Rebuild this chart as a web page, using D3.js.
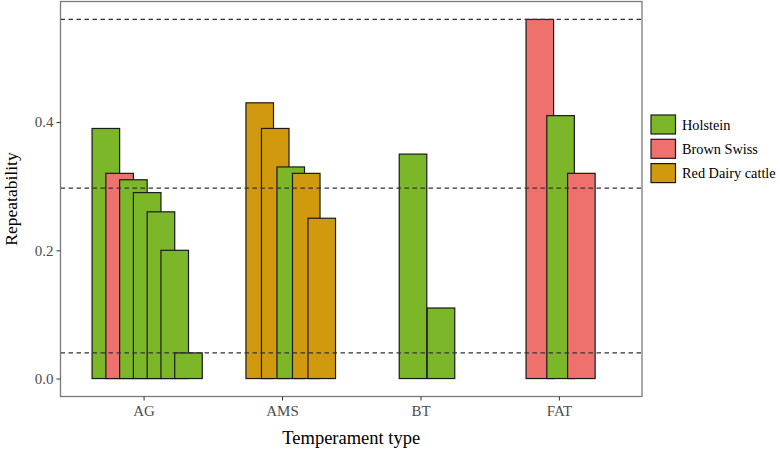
<!DOCTYPE html>
<html>
<head>
<meta charset="utf-8">
<script src="https://cdn.jsdelivr.net/npm/d3@7"></script>
<style>
  html, body { margin: 0; padding: 0; background: #fff; }
  svg { display: block; font-family: "Liberation Serif", "DejaVu Serif", serif; }
</style>
</head>
<body>
<svg id="chart" width="780" height="449"></svg>
<script>
// ---- data ----
const categories = ["AG", "AMS", "BT", "FAT"];
const breeds = ["Holstein", "Brown Swiss", "Red Dairy cattle"];
const agBreeds   = ["Holstein", "Brown Swiss", "Holstein", "Holstein", "Holstein", "Holstein", "Holstein"];
const agValues   = [0.39, 0.32, 0.31, 0.29, 0.26, 0.20, 0.04];
const amsBreeds  = ["Red Dairy cattle", "Red Dairy cattle", "Holstein", "Red Dairy cattle", "Red Dairy cattle"];
const amsValues  = [0.43, 0.39, 0.33, 0.32, 0.25];
const btBreeds   = ["Holstein", "Holstein"];
const btValues   = [0.35, 0.11];
const fatBreeds  = ["Brown Swiss", "Holstein", "Brown Swiss"];
const fatValues  = [0.56, 0.41, 0.32];
const refLines   = [0.04, 0.297, 0.56];
const yTicks     = [0.0, 0.2, 0.4];

// ---- styles / layout ----
const colors = { "Holstein": "#7CB72A", "Brown Swiss": "#EF716D", "Red Dairy cattle": "#D1990E" };
// dodge layout per category (fraction of category step): spacing between bars, group shift
const dodge = {
  AG:  { spacing: 0.0995, shift: 0.026 },
  AMS: { spacing: 0.112,  shift: 0.063 },
  BT:  { spacing: 0.202,  shift: 0.047 },
  FAT: { spacing: 0.150,  shift: 0.012 }
};
const barFrac = 0.199;

const groups = {
  AG:  { b: agBreeds,  v: agValues },
  AMS: { b: amsBreeds, v: amsValues },
  BT:  { b: btBreeds,  v: btValues },
  FAT: { b: fatBreeds, v: fatValues }
};

const bars = [];
categories.forEach(c => {
  const g = groups[c];
  const n = g.v.length;
  g.v.forEach((v, i) => bars.push({ cat: c, breed: g.b[i], value: v, i, n }));
});

const svg = d3.select("#chart");
const panel = { left: 60.5, right: 642, top: 1.5, bottom: 396.5 };

const yMax = d3.max(bars, d => d.value);
const yMin = 0;
const pad = (yMax - yMin) * 0.05;
const y = d3.scaleLinear().domain([yMin - pad, yMax + pad]).range([panel.bottom, panel.top]);
const x = d3.scalePoint().domain(categories).range([panel.left, panel.right]).padding(0.6);
const step = x.step();

// panel background
svg.append("rect")
  .attr("x", panel.left).attr("y", panel.top)
  .attr("width", panel.right - panel.left).attr("height", panel.bottom - panel.top)
  .attr("fill", "#fff");

// bars
const bw = barFrac * step;
svg.append("g").selectAll("rect").data(bars).join("rect")
  .attr("x", d => {
    const L = dodge[d.cat];
    const cx = x(d.cat) + (L.shift + (d.i - (d.n - 1) / 2) * L.spacing) * step;
    return cx - bw / 2;
  })
  .attr("y", d => y(d.value))
  .attr("width", bw)
  .attr("height", d => y(0) - y(d.value))
  .attr("fill", d => colors[d.breed])
  .attr("stroke", "#1a1a1a")
  .attr("stroke-width", 1.2);

// reference dashed lines
svg.append("g").selectAll("line").data(refLines).join("line")
  .attr("x1", panel.left).attr("x2", panel.right)
  .attr("y1", d => y(d)).attr("y2", d => y(d))
  .attr("stroke", "#333").attr("stroke-width", 1.2)
  .attr("stroke-dasharray", "4.5,3.5");

// panel border
svg.append("rect")
  .attr("x", panel.left).attr("y", panel.top)
  .attr("width", panel.right - panel.left).attr("height", panel.bottom - panel.top)
  .attr("fill", "none").attr("stroke", "#7a7a7a").attr("stroke-width", 1.3);

// y axis
const yAxis = d3.axisLeft(y).tickValues(yTicks).tickFormat(d3.format(".1f")).tickSize(4).tickPadding(3);
const gy = svg.append("g").attr("transform", `translate(${panel.left},0)`).call(yAxis);
gy.select(".domain").remove();
gy.selectAll(".tick line").attr("stroke", "#333");
gy.selectAll(".tick text").attr("fill", "#4D4D4D").style("font-size", "15px")
  .style("font-family", "'Liberation Serif', serif");

// x axis
const xAxis = d3.axisBottom(x).tickSize(4).tickPadding(5);
const gx = svg.append("g").attr("transform", `translate(0,${panel.bottom})`).call(xAxis);
gx.select(".domain").remove();
gx.selectAll(".tick line").attr("stroke", "#333");
gx.selectAll(".tick text").attr("fill", "#4D4D4D").style("font-size", "15px")
  .style("font-family", "'Liberation Serif', serif");

// axis titles
svg.append("text")
  .attr("x", (panel.left + panel.right) / 2).attr("y", 444)
  .attr("text-anchor", "middle").attr("fill", "#000")
  .style("font-size", "18.5px").text("Temperament type");
svg.append("text")
  .attr("transform", `translate(17,${(panel.top + panel.bottom) / 2}) rotate(-90)`)
  .attr("text-anchor", "middle").attr("fill", "#000")
  .style("font-size", "17.5px").text("Repeatability");

// legend
const lg = svg.append("g").attr("transform", "translate(651,115)");
const item = lg.selectAll("g").data(breeds).join("g")
  .attr("transform", (d, i) => `translate(0,${i * 24.3})`);
item.append("rect")
  .attr("width", 24.5).attr("height", 19)
  .attr("fill", d => colors[d]).attr("stroke", "#1a1a1a").attr("stroke-width", 1.2);
item.append("text")
  .attr("x", 31).attr("y", 14.5)
  .attr("fill", "#000").style("font-size", "14.3px").text(d => d);
</script>
</body>
</html>
